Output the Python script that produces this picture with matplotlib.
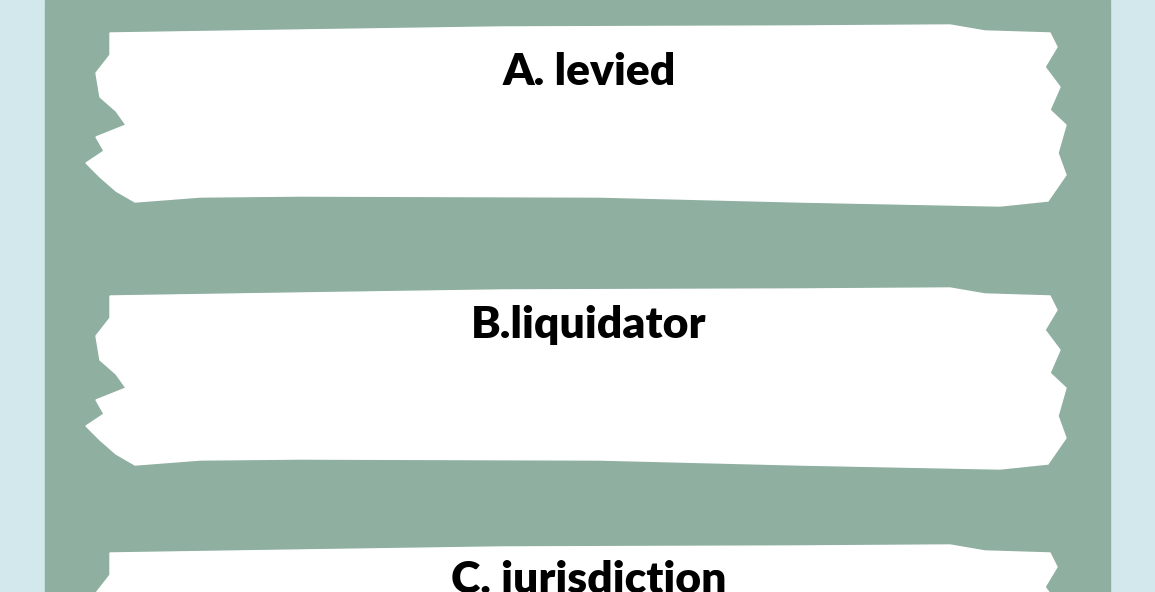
import matplotlib.pyplot as plt
from matplotlib.patches import Polygon, Rectangle

labels = ["A. levied", "B.liquidator", "C. jurisdiction"]
band_tops = [25, 288, 545]
label_ys = [72, 325, 580]

# outline of one brush stroke, relative to its top edge (pixels)
brush = [(110, 8), (300, 5), (500, 2), (800, 1), (950, 0), (985, 6), (1050, 8), (1057, 22),
         (1045, 42), (1060, 62), (1050, 85), (1066, 100), (1058, 128), (1066, 150),
         (1048, 176), (1000, 181), (800, 177), (600, 172), (300, 171), (200, 172),
         (135, 177), (116, 166), (100, 152), (86, 138), (104, 126), (96, 112),
         (126, 100), (116, 86), (100, 72), (96, 48), (110, 30)]

fig = plt.figure(figsize=(11.55, 5.92), dpi=100)
ax = fig.add_axes([0, 0, 1, 1])
ax.set_xlim(0, 1155)
ax.set_ylim(592, 0)
ax.axis('off')
fig.patch.set_facecolor('#d2e8ec')

ax.add_patch(Rectangle((45, 0), 1065, 592, color='#8fb0a1'))

for label, y0, ty in zip(labels, band_tops, label_ys):
    pts = [(x, y + y0) for x, y in brush]
    ax.add_patch(Polygon(pts, closed=True, color='white'))
    ax.text(589, ty, label, ha='center', va='center', fontsize=32,
            fontweight='heavy', family='Lato', color='black')

fig.savefig('out.png', dpi=100)
